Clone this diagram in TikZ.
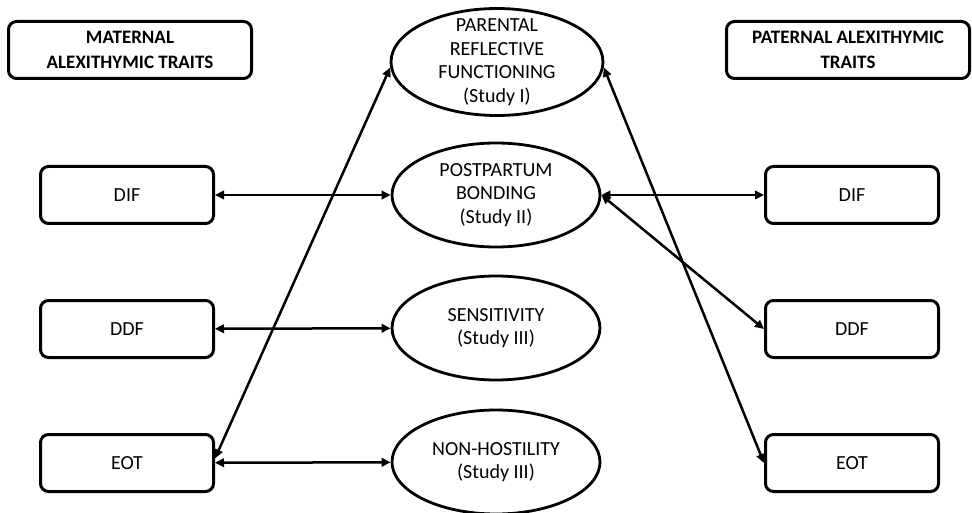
\documentclass[tikz,border=0pt]{standalone}
\usepackage{fontspec}
\setmainfont{Carlito}
\usetikzlibrary{arrows.meta,shapes.geometric}

\begin{document}
\begin{tikzpicture}[
    x=1pt, y=-1pt,
    font=\fontsize{20}{23.5}\selectfont,
    >={Triangle[length=9pt, width=8.5pt]},
    trait/.style={draw, line width=3pt, rounded corners=8pt, minimum width=173pt, minimum height=57pt, align=center, inner sep=0pt},
    head/.style={trait, minimum width=243pt, font=\fontsize{19}{25}\selectfont\bfseries},
    study/.style={draw, ellipse, line width=2.8pt, minimum width=208pt, minimum height=104pt, align=center, inner sep=0pt},
    link/.style={<->, line width=2.5pt},
]
    \useasboundingbox (0,0) rectangle (972,513);

    % =====================================================================
    % MATERNAL SIDE
    % =====================================================================
    \node[head] (head_m) at (130, 50) {MATERNAL\\ALEXITHYMIC TRAITS};
    \node[trait] (m_dif) at (127, 195) {DIF};
    \node[trait] (m_ddf) at (127, 329) {DDF};
    \node[trait] (m_eot) at (127, 463) {EOT};

    % =====================================================================
    % OUTCOMES (STUDIES)
    % =====================================================================
    \node[study, minimum width=212pt, minimum height=107pt, inner ysep=-18pt] (s_refl) at (497, 62)
        {PARENTAL\\REFLECTIVE\\FUNCTIONING\\(Study I)};
    \node[study] (s_bond) at (496, 195) {POSTPARTUM\\BONDING\\(Study II)};
    \node[study] (s_sens) at (496, 328) {SENSITIVITY\\(Study III)};
    \node[study] (s_host) at (496, 462) {NON-HOSTILITY\\(Study III)};

    % =====================================================================
    % PATERNAL SIDE
    % =====================================================================
    \node[head] (head_p) at (848, 50) {PATERNAL ALEXITHYMIC\\TRAITS};
    \node[trait] (p_dif) at (852, 195) {DIF};
    \node[trait] (p_ddf) at (852, 329) {DDF};
    \node[trait] (p_eot) at (852, 463) {EOT};

    % associations
    \draw[link] (m_dif) -- (s_bond);
    \draw[link] (m_ddf) -- (s_sens);
    \draw[link] (m_eot) -- (s_host);
    \draw[link] (m_eot.3) -- (s_refl.183);
    \draw[link] (s_refl.357) -- (p_eot.west);
    \draw[link] (s_bond.east) -- (p_dif.west);
    \draw[link] (s_bond.east) -- (p_ddf.west);

\end{tikzpicture}
\end{document}
